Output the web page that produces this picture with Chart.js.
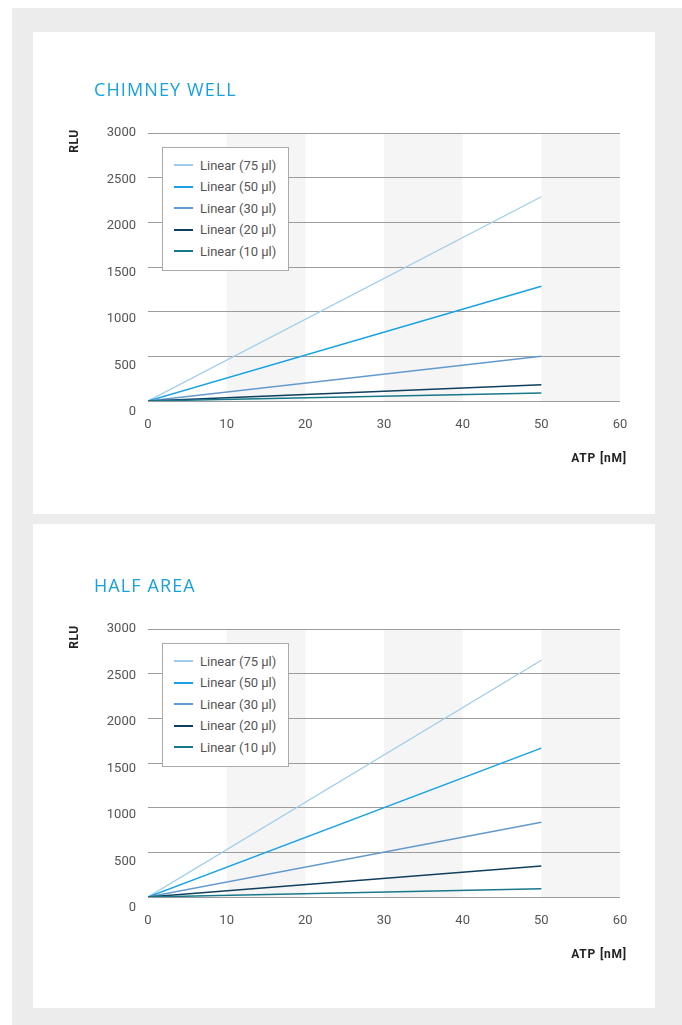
<!DOCTYPE html>
<html>
<head>
<meta charset="utf-8">
<script src="https://cdn.jsdelivr.net/npm/chart.js@4.4.1/dist/chart.umd.min.js"></script>
<style>
  html, body { margin: 0; padding: 0; background: #fff; }
  .frame {
    position: absolute; left: 12px; top: 8px;
    width: 670px; height: 1017px; background: #ececec;
  }
  .card {
    position: absolute; left: 33px; width: 622px; background: #fff; overflow: hidden;
  }
  .inner { position: absolute; left: 0; width: 622px; height: 482px; }
  .inner canvas { position: absolute; left: 0; top: 0; }
  .title {
    position: absolute; left: 61px; top: 45px; margin: 0;
    font: 400 18px "Open Sans", sans-serif; color: #16a2e2; letter-spacing: 1.1px;
  }
  .rlu {
    position: absolute; left: 41px; top: 109px; transform: translate(-50%, -50%) rotate(-90deg);
    font: 700 12px Roboto, sans-serif; color: #222; letter-spacing: 0.5px;
  }
  .atp {
    position: absolute; right: 28px; top: 419px;
    font: 700 12px Roboto, sans-serif; color: #222; letter-spacing: 0.8px;
  }
  .legend {
    position: absolute; left: 129px; top: 115px; width: 125px; height: 122px;
    border: 1px solid #aaa; background: #fff;
  }
  .legend .item {
    position: absolute; left: 11px; height: 14px; display: flex; align-items: center;
    font: 400 13px Roboto, sans-serif; color: #555; white-space: nowrap;
  }
  .legend .item i { display: inline-block; width: 19px; height: 2px; margin-right: 7px; }
</style>
</head>
<body>
<div class="frame"></div>

<div class="card" style="top:32px;height:482px">
  <div class="inner" style="top:0">
    <canvas id="chimney"></canvas>
    <h3 class="title">CHIMNEY WELL</h3>
    <div class="rlu">RLU</div>
    <div class="atp">ATP [nM]</div>
    <div class="legend" id="legendChimney"></div>
  </div>
</div>

<div class="card" style="top:524px;height:484px">
  <div class="inner" style="top:4px">
    <canvas id="halfArea"></canvas>
    <h3 class="title">HALF AREA</h3>
    <div class="rlu">RLU</div>
    <div class="atp">ATP [nM]</div>
    <div class="legend" id="legendHalf"></div>
  </div>
</div>

<script>
// ATP concentration at the two ends of each fitted line
const atp = [0, 50];
const seriesNames = ["Linear (75 µl)", "Linear (50 µl)", "Linear (30 µl)", "Linear (20 µl)", "Linear (10 µl)"];
const lineColors = ["#9fcdec", "#18a2e4", "#639acb", "#0f3f5c", "#17788a"];

// RLU, one pair per series
const chimneyValues = [
  [0, 2286],
  [0, 1284],
  [0, 500],
  [0, 182],
  [0, 89],
];
const halfAreaValues = [
  [0, 2650],
  [0, 1667],
  [0, 836],
  [0, 348],
  [0, 93],
];

const yTicks = [0, 500, 1000, 1500, 2000, 2500, 3000];
const xTicks = [0, 10, 20, 30, 40, 50, 60];
const shadedBands = [[10, 20], [30, 40], [50, 60]];

const tickFont = { family: "Roboto", size: 13 };

const bandsPlugin = {
  id: "bands",
  beforeDraw(chart) {
    const { ctx, chartArea, scales } = chart;
    ctx.save();
    ctx.fillStyle = "#f5f5f5";
    shadedBands.forEach(([a, b]) => {
      const x1 = scales.x.getPixelForValue(a);
      const x2 = scales.x.getPixelForValue(b);
      ctx.fillRect(x1, chartArea.top, x2 - x1, chartArea.bottom - chartArea.top);
    });
    ctx.restore();
  },
};

function buildLegend(id) {
  const box = document.getElementById(id);
  seriesNames.forEach((name, i) => {
    const item = document.createElement("div");
    item.className = "item";
    item.style.top = (10 + i * 21.5) + "px";
    item.innerHTML = '<i style="background:' + lineColors[i] + '"></i>' + name;
    box.appendChild(item);
  });
}

function makeChart(canvasId, values) {
  const ctx = document.getElementById(canvasId).getContext("2d");
  return new Chart(ctx, {
    type: "line",
    data: {
      datasets: values.map((v, i) => ({
        label: seriesNames[i],
        data: atp.map((x, j) => ({ x: x, y: v[j] })),
        borderColor: lineColors[i],
        borderWidth: i === 0 ? 1.3 : 1.5,
        pointRadius: 0,
        fill: false,
        tension: 0,
      })).reverse(),
    },
    options: {
      responsive: false,
      animation: false,
      devicePixelRatio: 1,
      layout: { padding: { top: 101, right: 35, left: 0, bottom: 0 } },
      scales: {
        x: {
          type: "linear",
          min: 0,
          max: 60,
          afterBuildTicks: (s) => { s.ticks = xTicks.map((v) => ({ value: v })); },
          afterFit: (s) => { s.height = 113; },
          grid: { display: false, drawTicks: false },
          border: { display: false },
          ticks: { padding: 16, color: "#555", font: tickFont, callback: (v) => String(v) },
        },
        // grid lines only
        y: {
          min: 0,
          max: 3000,
          afterBuildTicks: (s) => { s.ticks = yTicks.map((v) => ({ value: v })); },
          afterFit: (s) => { s.width = 0; },
          grid: { color: "#9c9c9c", lineWidth: 1, drawTicks: false },
          border: { display: false },
          ticks: { display: false },
        },
        // tick labels sit a little lower than their grid lines in the original
        yLabels: {
          position: "left",
          min: 119,
          max: 3000,
          afterBuildTicks: (s) => { s.ticks = yTicks.map((v) => ({ value: v })); },
          afterFit: (s) => { s.width = 115; },
          grid: { display: false, drawTicks: false },
          border: { display: false },
          ticks: { padding: 12, color: "#555", font: tickFont, callback: (v) => String(v) },
        },
      },
      plugins: {
        legend: { display: false },
        tooltip: { enabled: false },
      },
    },
    plugins: [bandsPlugin],
  });
}

["chimney", "halfArea"].forEach((id) => {
  const c = document.getElementById(id);
  c.width = 622;
  c.height = 482;
  c.style.width = "622px";
  c.style.height = "482px";
});

buildLegend("legendChimney");
buildLegend("legendHalf");
makeChart("chimney", chimneyValues);
makeChart("halfArea", halfAreaValues);
</script>
</body>
</html>
